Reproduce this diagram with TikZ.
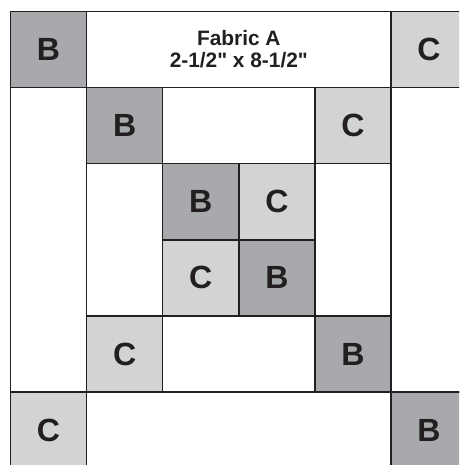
\documentclass[tikz,border=0pt]{standalone}
\usepackage{fontspec}
\setmainfont{Liberation Sans}[Ligatures=TeXOff]
\usepackage{xcolor}
\definecolor{fabricB}{HTML}{A7A9AC}
\definecolor{fabricC}{HTML}{D1D3D4}
\definecolor{seam}{HTML}{231F20}

\begin{document}
\begin{tikzpicture}[
	patch/.style={draw=seam,line width=0.55pt,inner sep=0pt,outer sep=0pt,anchor=north west,
		text=seam,font=\bfseries\fontsize{12}{14}\selectfont},
	patchB/.style={patch,fill=fabricB,minimum size=1cm},
	patchC/.style={patch,fill=fabricC,minimum size=1cm},
	hstrip/.style={patch,fill=white,minimum width=#1cm,minimum height=1cm},
	vstrip/.style={patch,fill=white,minimum width=1cm,minimum height=#1cm}
]
	\useasboundingbox (-0.138,0.151) rectangle (5.894,-5.959);
	\clip (-0.138,0.151) rectangle (5.894,-5.959);
	
	% outer ring
	\node[patchB] (b1) at (0,0) {B};
	\node[hstrip=4,align=center,font=\bfseries\fontsize{7.8}{8.2}\selectfont] (a1) at (1,0) {Fabric A\\2-1/2" x 8-1/2"};
	\node[patchC] (c1) at (5,0) {C};
	\node[vstrip=4] (a2) at (0,-1) {};
	\node[vstrip=4] (a3) at (5,-1) {};
	\node[patchC] (c6) at (0,-5) {C};
	\node[hstrip=4] (a8) at (1,-5) {};
	\node[patchB] (b6) at (5,-5) {B};
	
	% middle ring
	\node[patchB] (b2) at (1,-1) {B};
	\node[hstrip=2] (a4) at (2,-1) {};
	\node[patchC] (c2) at (4,-1) {C};
	\node[vstrip=2] (a5) at (1,-2) {};
	\node[vstrip=2] (a6) at (4,-2) {};
	\node[patchC] (c5) at (1,-4) {C};
	\node[hstrip=2] (a7) at (2,-4) {};
	\node[patchB] (b5) at (4,-4) {B};
	
	% centre
	\node[patchB] (b3) at (2,-2) {B};
	\node[patchC] (c3) at (3,-2) {C};
	\node[patchC] (c4) at (2,-3) {C};
	\node[patchB] (b4) at (3,-3) {B};
\end{tikzpicture}
\end{document}
